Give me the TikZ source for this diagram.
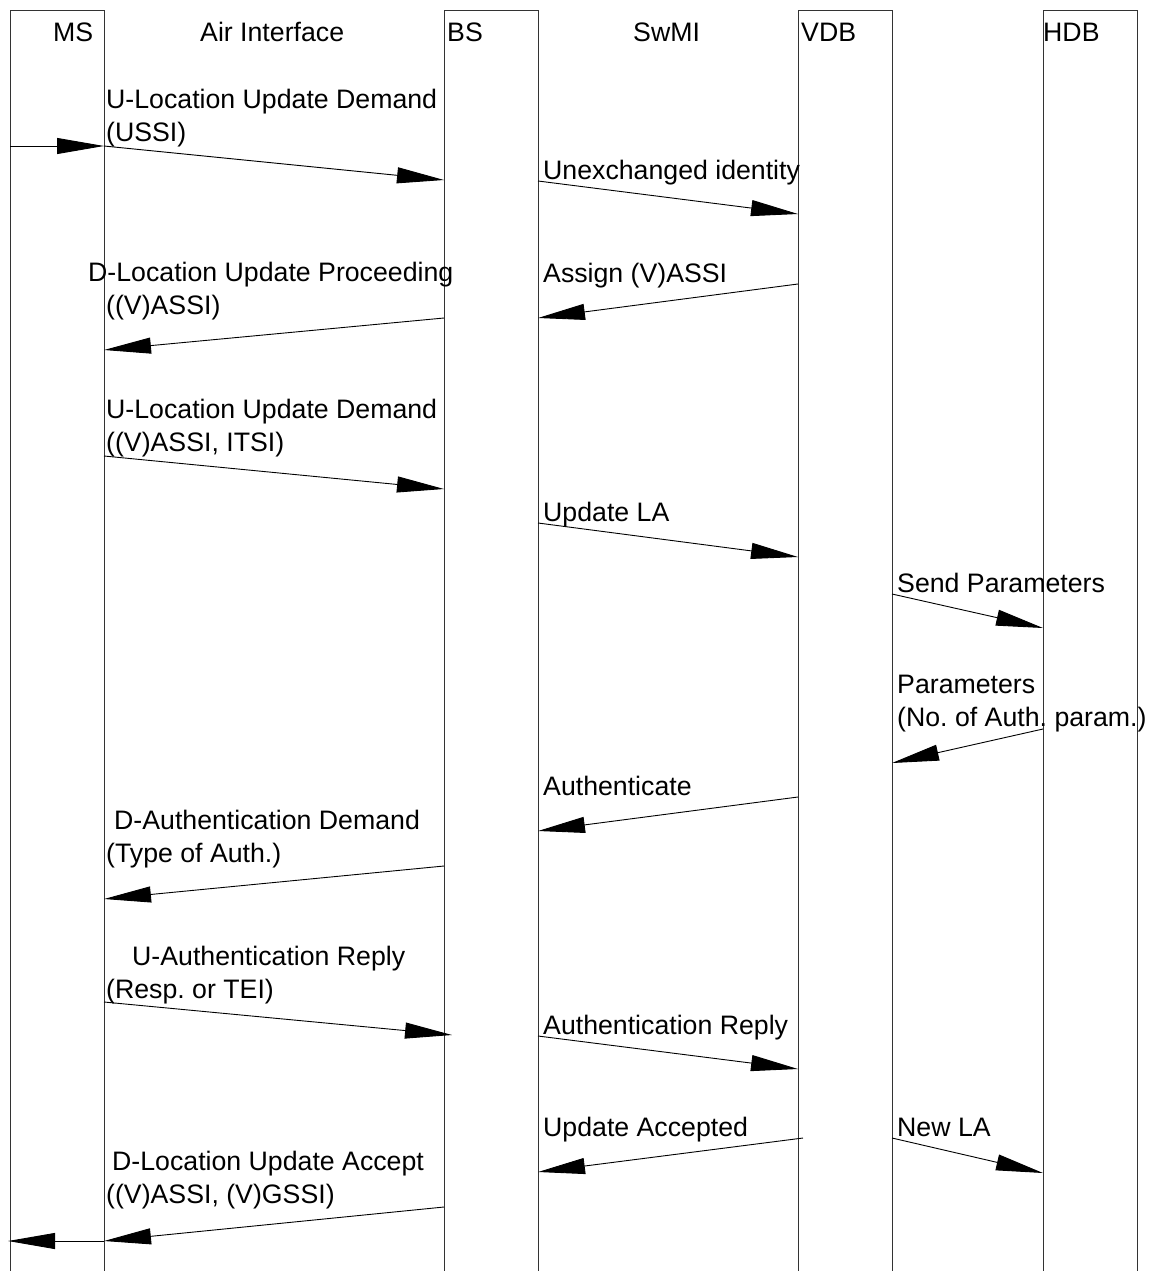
\documentclass[tikz,border=0pt]{standalone}
\usepackage{fontspec}
\setmainfont{Liberation Sans}
\usetikzlibrary{arrows.meta}
\frenchspacing
\begin{document}
\frenchspacing
\begin{tikzpicture}[x=1pt,y=-1pt,
  life/.style={draw=black!80, line width=1pt},
  msg/.style={draw=black, line width=0.9pt, -{Triangle[length=47pt,width=16pt]}},
  lbl/.style={anchor=base west, inner sep=0pt, font=\fontsize{26.7}{32}\selectfont},
]
\useasboundingbox (0,0) rectangle (1150,1271);
% lifeline boxes (open at the bottom)
\draw[life] (10,1275) -- (10,11) -- (104,11) -- (104,1275);
\draw[life] (444,1275) -- (444,11) -- (538,11) -- (538,1275);
\draw[life] (798,1275) -- (798,11) -- (892,11) -- (892,1275);
\draw[life] (1043,1275) -- (1043,11) -- (1137,11) -- (1137,1275);
% headers
\node[lbl] (tMS)   at (53,42)   {MS};
\node[lbl] (tAir)  at (200,42)  {Air Interface};
\node[lbl] (tBS)   at (447,42)  {BS};
\node[lbl] (tSwMI) at (633,42)  {SwMI};
\node[lbl] (tVDB)  at (801,42)  {VDB};
\node[lbl] (tHDB)  at (1043,42) {HDB};
% message end points
\coordinate (a0s) at (10,146);   \coordinate (a0e) at (104,146);
\coordinate (a1s) at (104,146);  \coordinate (a1e) at (444,180);
\coordinate (a2s) at (538,181);  \coordinate (a2e) at (798,214);
\coordinate (a3s) at (798,284);  \coordinate (a3e) at (538,318);
\coordinate (a4s) at (444,318);  \coordinate (a4e) at (104,350);
\coordinate (a5s) at (104,456);  \coordinate (a5e) at (444,489);
\coordinate (a6s) at (538,523);  \coordinate (a6e) at (798,557);
\coordinate (a7s) at (892,594);  \coordinate (a7e) at (1043,628);
\coordinate (a8s) at (1043,729); \coordinate (a8e) at (892,763);
\coordinate (a9s) at (798,797);  \coordinate (a9e) at (538,831);
\coordinate (b0s) at (444,866);  \coordinate (b0e) at (104,899);
\coordinate (b1s) at (104,1002); \coordinate (b1e) at (452,1035);
\coordinate (b2s) at (538,1036); \coordinate (b2e) at (798,1069);
\coordinate (b3s) at (803,1138); \coordinate (b3e) at (538,1172);
\coordinate (b4s) at (892,1138); \coordinate (b4e) at (1043,1173);
\coordinate (b5s) at (444,1207); \coordinate (b5e) at (104,1241);
\coordinate (b6s) at (104,1241); \coordinate (b6e) at (8,1241);
% messages
\foreach \m in {a0,a1,a2,a3,a4,a5,a6,a7,a8,a9,b0,b1,b2,b3,b4,b5,b6}
  \draw[msg] (\m s) -- (\m e);
% labels
\node[lbl] (l1a) at (106,109)  {U-Location Update Demand};
\node[lbl] (l1b) at (106,142)  {(USSI)};
\node[lbl] (l2)  at (543,179)  {Unexchanged identity};
\node[lbl] (l3)  at (543,282)  {Assign (V)ASSI};
\node[lbl] (l4a) at (88,281)   {D-Location Update Proceeding};
\node[lbl] (l4b) at (106,314)  {((V)ASSI)};
\node[lbl] (l5a) at (106,418)  {U-Location Update Demand};
\node[lbl] (l5b) at (106,451)  {((V)ASSI, ITSI)};
\node[lbl] (l6)  at (543,521)  {Update LA};
\node[lbl] (l7)  at (897,592)  {Send Parameters};
\node[lbl] (l8a) at (897,693)  {Parameters};
\node[lbl] (l8b) at (897,726)  {(No. of Auth. param.)};
\node[lbl] (l9)  at (543,795)  {Authenticate};
\node[lbl] (l10a) at (114,829) {D-Authentication Demand};
\node[lbl] (l10b) at (106,862) {(Type of Auth.)};
\node[lbl] (l11a) at (132,965) {U-Authentication Reply};
\node[lbl] (l11b) at (106,998) {(Resp. or TEI)};
\node[lbl] (l12) at (543,1034) {Authentication Reply};
\node[lbl] (l13) at (543,1136) {Update Accepted};
\node[lbl] (l14) at (897,1136) {New LA};
\node[lbl] (l15a) at (112,1170) {D-Location Update Accept};
\node[lbl] (l15b) at (106,1203) {((V)ASSI, (V)GSSI)};
\end{tikzpicture}
\end{document}
